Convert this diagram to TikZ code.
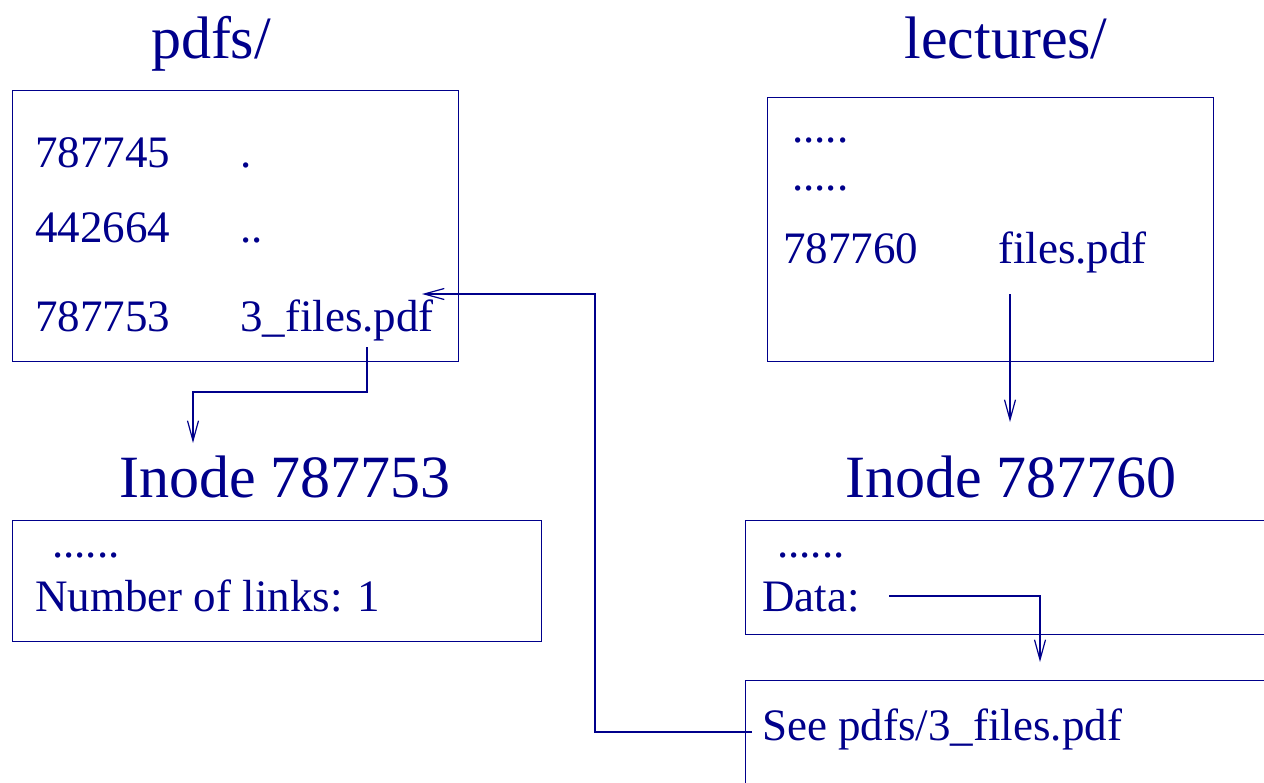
\documentclass[tikz,border=0pt]{standalone}
\usepackage{fontspec}
\setmainfont{Liberation Serif}
\usetikzlibrary{arrows.meta}
\definecolor{fig}{RGB}{0,0,139}
\begin{document}
\begin{tikzpicture}[x=1pt,y=-1pt,
  txt/.style={anchor=base west, inner sep=0pt, text=fig, font=\fontsize{45}{54}\selectfont},
  ttl/.style={anchor=base, inner sep=0pt, text=fig, font=\fontsize{60}{72}\selectfont},
  boxr/.style={draw=fig, line width=1.2pt, anchor=north west, inner sep=0pt},
  conn/.style={draw=fig, line width=1.2pt},
  arr/.style={conn, -{Straight Barb[length=20pt,width=11pt,line width=1.2pt]}}]
\useasboundingbox (0,0) rectangle (1264,782);
% boxes
\node[boxr, minimum width=446pt, minimum height=271pt] (pdfsbox) at (12,90) {};
\node[boxr, minimum width=446pt, minimum height=264pt] (lecbox) at (767,97) {};
\node[boxr, minimum width=529pt, minimum height=121pt] (ino1box) at (12,520) {};
\node[boxr, minimum width=540pt, minimum height=114pt] (ino2box) at (745,520) {};
\node[boxr, minimum width=540pt, minimum height=130pt] (seebox) at (745,680) {};
% titles
\node[ttl] (pdfst) at (211,58) {pdfs/};
\node[ttl] (lect) at (1006,58) {lectures/};
\node[ttl] (ino1t) at (285,497) {Inode 787753};
\node[ttl] (ino2t) at (1011,497) {Inode 787760};
% pdfs entries
\node[txt] (n1) at (35,167) {787745};
\node[txt] (d1) at (240,167) {.};
\node[txt] (n2) at (35,242) {442664};
\node[txt] (d2) at (240,242) {..};
\node[txt] (n3) at (35,331) {787753};
\node[txt] (f3) at (240,331) {3\_files.pdf};
% lectures entries
\node[txt] (l1) at (792,142) {.....};
\node[txt] (l2) at (792,190) {.....};
\node[txt] (l3) at (783,263) {787760};
\node[txt] (f2) at (998,263) {files.pdf};
% inode boxes
\node[txt] (i1a) at (52,557) {......};
\node[txt] (i1b) at (35,611) {Number of links: 1};
\node[txt] (i2a) at (777,557) {......};
\node[txt] (data) at (762,611) {Data:};
\node[txt] (see) at (762,740) {See pdfs/3\_files.pdf};
% connector end points
\coordinate (f3s) at (367,347);
\coordinate (ino1n) at (193,443);
\coordinate (f2s) at (1010,294);
\coordinate (ino2n) at (1010,422);
\coordinate (datae) at (889,596);
\coordinate (seen) at (1040,662);
\coordinate (seew) at (752,732);
\coordinate (bend) at (595,732);
\coordinate (f3e) at (422,294);
% connectors
\draw[arr] (f3s) -- (367,392) -| (ino1n);
\draw[arr] (f2s) -- (ino2n);
\draw[arr] (datae) -| (seen);
\draw[arr] (seew) -- (bend) |- (f3e);
\end{tikzpicture}
\end{document}
